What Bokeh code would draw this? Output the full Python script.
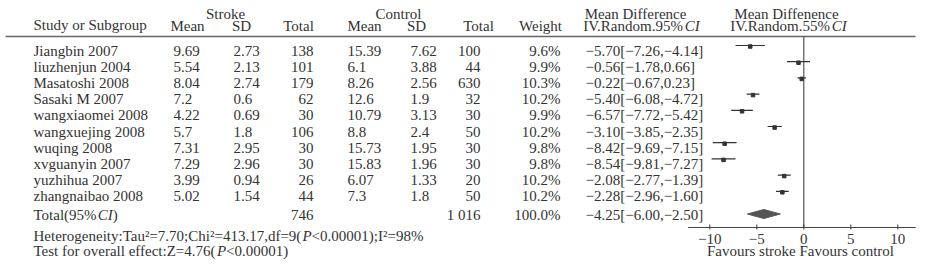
from bokeh.plotting import figure
from bokeh.models import Range1d, ColumnDataSource
from bokeh.core.properties import value
from bokeh.embed import file_html
from bokeh.resources import INLINE

# ---------------- data ----------------
studies = ["Jiangbin 2007", "liuzhenjun 2004", "Masatoshi 2008", "Sasaki M 2007",
           "wangxiaomei 2008", "wangxuejing 2008", "wuqing 2008", "xvguanyin 2007",
           "yuzhihua 2007", "zhangnaibao 2008"]
stroke_mean = [9.69, 5.54, 8.04, 7.2, 4.22, 5.7, 7.31, 7.29, 3.99, 5.02]
stroke_sd = [2.73, 2.13, 2.74, 0.6, 0.69, 1.8, 2.95, 2.96, 0.94, 1.54]
stroke_n = [138, 101, 179, 62, 30, 106, 30, 30, 26, 44]
control_mean = [15.39, 6.1, 8.26, 12.6, 10.79, 8.8, 15.73, 15.83, 6.07, 7.3]
control_sd = [7.62, 3.88, 2.56, 1.9, 3.13, 2.4, 1.95, 1.96, 1.33, 1.8]
control_n = [100, 44, 630, 32, 30, 50, 30, 30, 20, 50]
weight = [9.6, 9.9, 10.3, 10.2, 9.9, 10.2, 9.8, 9.8, 10.2, 10.2]
md = [-5.70, -0.56, -0.22, -5.40, -6.57, -3.10, -8.42, -8.54, -2.08, -2.28]
ci_low = [-7.26, -1.78, -0.67, -6.08, -7.72, -3.85, -9.69, -9.81, -2.77, -2.96]
ci_high = [-4.14, 0.66, 0.23, -4.72, -5.42, -2.35, -7.15, -7.27, -1.39, -1.60]

total_stroke_n = "746"
total_control_n = "1 016"
total_weight = 100.0
total_md = -4.25
total_low = -6.00
total_high = -2.50

axis_ticks = [-10, -5, 0, 5, 10]
axis_caption = "Favours stroke Favours control"

# rich texts: (segment, italic?)
total_label = [("Total(95%", False), ("CI", True), (")", False)]
hdr_ci95 = [("IV.Random.95%", False), ("CI", True)]
hdr_ci55 = [("IV.Random.55%", False), ("CI", True)]
heterogeneity = [("Heterogeneity:Tau\u00b2=7.70;Chi\u00b2=413.17,df=9(", False), ("P", True),
                 ("<0.00001);I\u00b2=98%", False)]
overall = [("Test for overall effect:Z=4.76(", False), ("P", True), ("<0.00001)", False)]

# ---------------- layout constants (pixels) ----------------
W, H = 918, 259
ZERO_PX, PX_PER_UNIT = 803.3, 9.4
FONTNAME = "Liberation Serif"
FONT = value(FONTNAME)
FSZ = 15
FS = "%dpx" % FSZ
TXT = "#333333"
ROW0, ROWSTEP = 50.0, 16.2
TOTAL_Y = 214.5
AXIS_Y = 227
AXIS_MIN, AXIS_MAX = -12.3, 11.9

# Times/Liberation Serif advance widths (1/1000 em) for layout of mixed-style text
_W = {' ': 250, '%': 833, '(': 333, ')': 333, ',': 250, '.': 250, ':': 278, ';': 278,
      '<': 564, '=': 564, '\u00b2': 300, '\u2212': 564}
for d in "0123456789":
    _W[d] = 500
_W.update({'I': 333, 'V': 722, 'R': 667, 'T': 611, 'H': 722, 'C': 667, 'Z': 611, 'P': 611,
           'a': 444, 'c': 444, 'd': 500, 'e': 444, 'f': 333, 'g': 500, 'h': 500, 'i': 278,
           'l': 278, 'm': 778, 'n': 500, 'o': 500, 'r': 333, 's': 389, 't': 278, 'u': 500,
           'v': 500, 'y': 500, 'w': 722, 'x': 500, 'b': 500, 'p': 500, 'j': 278, 'k': 500})


def tw(s):
    return sum(_W.get(ch, 500) for ch in s) * FSZ / 1000.0


def fmt_ci(m, lo, hi):
    return ("%.2f[%.2f,%.2f]" % (m, lo, hi)).replace("-", "\u2212")


p = figure(width=W, height=H, min_border=0,
           x_range=Range1d(0, W), y_range=Range1d(H, 0),
           x_axis_location=None, y_axis_location=None,
           output_backend="svg", toolbar_location=None)
p.outline_line_color = None
p.grid.visible = False
p.background_fill_color = "white"
p.border_fill_color = "white"
p.extra_x_ranges = {"md": Range1d((0 - ZERO_PX) / PX_PER_UNIT, (W - ZERO_PX) / PX_PER_UNIT)}

rows_y = [ROW0 + ROWSTEP * i for i in range(len(studies))]


def col(xs, texts, align, y=None, italic=False, **kw):
    src = ColumnDataSource(dict(x=xs, y=y if y is not None else rows_y, t=texts))
    p.text(x="x", y="y", text="t", source=src, text_font=FONT, text_font_size=FS,
           text_align=align, text_baseline="middle", text_color=TXT,
           text_font_style="italic" if italic else "normal", **kw)


def rich(x, y, parts, align="left"):
    total = sum(tw(s) for s, _ in parts)
    x0 = x if align == "left" else (x - total / 2.0 if align == "center" else x - total)
    for s, it in parts:
        col([x0], [s], "left", y=[y], italic=it)
        x0 += tw(s)


n = len(studies)
col([33] * n, studies, "left")
col([173] * n, [str(v) for v in stroke_mean], "left")
col([233] * n, [str(v) for v in stroke_sd], "left")
col([313] * n, [str(v) for v in stroke_n], "right")
col([347] * n, [str(v) for v in control_mean], "left")
col([410] * n, [str(v) for v in control_sd], "left")
col([480] * n, [str(v) for v in control_n], "right")
col([560] * n, ["%.1f%%" % v for v in weight], "right")
col([585] * n, [fmt_ci(m, l, h) for m, l, h in zip(md, ci_low, ci_high)], "left")

# total row
rich(33, TOTAL_Y, total_label)
col([313], [total_stroke_n], "right", y=[TOTAL_Y])
col([480], [total_control_n], "right", y=[TOTAL_Y])
col([560], ["%.1f%%" % total_weight], "right", y=[TOTAL_Y])
col([585], [fmt_ci(total_md, total_low, total_high)], "left", y=[TOTAL_Y])

# headers
col([225, 398, 635, 786], ["Stroke", "Control", "Mean Difference", "Mean Diffenence"],
    "center", y=[13] * 4)
col([33], ["Study or Subgroup"], "left", y=[24])
col([187, 241, 298, 364, 416, 478, 540],
    ["Mean", "SD", "Total", "Mean", "SD", "Total", "Weight"], "center", y=[25] * 7)
rich(641, 25, hdr_ci95, "center")
rich(788, 25, hdr_ci55, "center")

# header rule
p.segment(x0=[5], y0=[36], x1=[915], y1=[36], line_color="#666666", line_width=1.6)

# bottom notes
rich(33, 235, heterogeneity)
rich(33, 250, overall)

# forest plot (md range)
mark_y = [y - 5 for y in rows_y]
p.segment(x0=[0], y0=[36], x1=[0], y1=[AXIS_Y], x_range_name="md",
          line_color="#444444", line_width=1.1)
p.segment(x0=ci_low, y0=mark_y, x1=ci_high, y1=mark_y, x_range_name="md",
          line_color="#333333", line_width=1.2)
p.scatter(x=md, y=[y + 1 for y in mark_y], marker="square", size=3.5,
          x_range_name="md", fill_color="#333333", line_color="#333333")
dy = TOTAL_Y - 1
p.patch(x=[total_low, total_md, total_high, total_md], y=[dy, dy - 4.5, dy, dy + 4.5],
        x_range_name="md", fill_color="#555555", line_color="#555555")

# x axis for the forest plot
p.segment(x0=[AXIS_MIN], y0=[AXIS_Y], x1=[AXIS_MAX], y1=[AXIS_Y], x_range_name="md",
          line_color="#444444", line_width=1.2)
p.segment(x0=axis_ticks, y0=[AXIS_Y - 3] * len(axis_ticks), x1=axis_ticks,
          y1=[AXIS_Y + 2] * len(axis_ticks), x_range_name="md",
          line_color="#444444", line_width=1.1)
col(axis_ticks, [str(t).replace("-", "\u2212") for t in axis_ticks], "center",
    y=[238] * len(axis_ticks), x_range_name="md")
col([(800 - ZERO_PX) / PX_PER_UNIT], [axis_caption], "center", y=[250], x_range_name="md")

open("out.html", "w").write(file_html(p, INLINE))
